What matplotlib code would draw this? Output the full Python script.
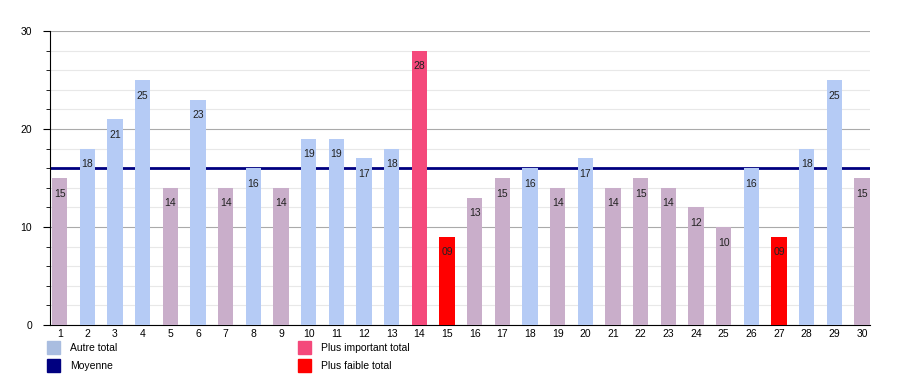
import matplotlib.pyplot as plt
from matplotlib.patches import Rectangle

# données
jours = list(range(1, 31))
totaux = [15, 18, 21, 25, 14, 23, 14, 16, 14, 19, 19, 17, 18, 28, 9,
          13, 15, 16, 14, 17, 14, 15, 14, 12, 10, 16, 9, 18, 25, 15]
moyenne = 16
labels = ['%02d' % v if v < 10 else str(v) for v in totaux]

bleu = '#b5cbf5'
mauve = '#c9aeca'
rose = '#f4497b'
rouge = '#ff0000'
marine = '#000080'

vmax = max(totaux)
vmin = min(totaux)
couleurs = []
for v in totaux:
    if v == vmax:
        couleurs.append(rose)
    elif v == vmin:
        couleurs.append(rouge)
    elif v >= moyenne:
        couleurs.append(bleu)
    else:
        couleurs.append(mauve)

plt.rcParams['font.family'] = ['Liberation Sans', 'DejaVu Sans']

fig = plt.figure(figsize=(9, 3.75), dpi=100)
ax = fig.add_axes([50 / 900, 50 / 375, 820 / 900, 294 / 375])

ax.axhline(moyenne, color=marine, lw=2, zorder=2)
ax.bar(jours, totaux, width=0.55, color=couleurs, zorder=3)
for x, v, t in zip(jours, totaux, labels):
    ax.text(x, v - 1.6, t, ha='center', va='center', fontsize=7.5, color='#222222', zorder=4)

ax.set_xlim(0.65, 30.29)
ax.set_ylim(0, 30)
ax.set_yticks([0, 10, 20, 30])
ax.set_yticks(range(0, 31, 2), minor=True)
ax.set_xticks(jours)
ax.grid(axis='y', which='major', color='#aaaaaa', lw=0.8, zorder=0)
ax.grid(axis='y', which='minor', color='#e8e8e8', lw=0.8, zorder=0)
ax.tick_params(axis='y', which='major', length=5, labelsize=7.5, pad=8)
ax.tick_params(axis='y', which='minor', length=3)
ax.tick_params(axis='x', length=0, labelsize=7.5, pad=3)
ax.spines['top'].set_visible(False)
ax.spines['right'].set_visible(False)

# légende
items = [(47, 348, bleu, 'Autre total'), (47, 366, marine, 'Moyenne'),
         (298, 348, rose, 'Plus important total'), (298, 366, rouge, 'Plus faible total')]
for px, py, c, t in items:
    if c == bleu:
        c = '#a9bde0'
    fig.patches.append(Rectangle((px / 900, 1 - (py + 6) / 375), 13 / 900, 13 / 375,
                                 transform=fig.transFigure, color=c, figure=fig))
    fig.text((px + 23) / 900, 1 - py / 375, t, fontsize=7.5, va='center', ha='left')

fig.savefig('out.png', dpi=100)
